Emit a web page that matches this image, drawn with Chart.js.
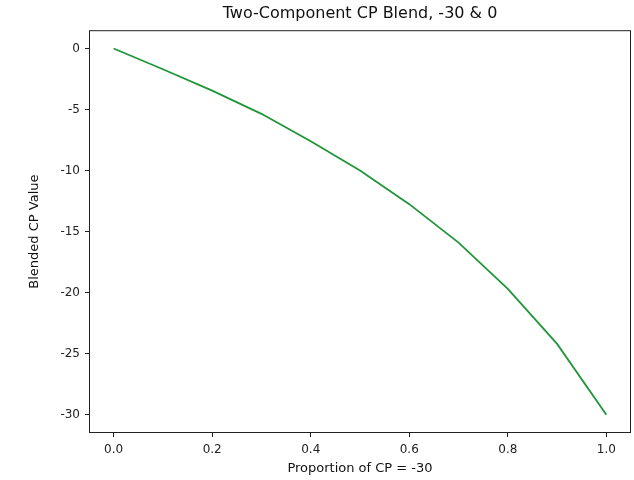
<!DOCTYPE html>
<html lang="en">
  <head>
    <meta charset="UTF-8" />
    <title>Two-Component CP Blend</title>
    <script src="https://cdn.jsdelivr.net/npm/chart.js@4.4.0/dist/chart.umd.min.js"></script>
    <style>
      html, body { margin: 0; padding: 0; background: #fff; }
      #wrap { width: 634px; height: 480px; }
    </style>
  </head>
  <body>
    <div id="wrap"><canvas id="chart" width="634" height="480"></canvas></div>
    <script>
      // proportion of the -30 component, and the blended value
      const proportions = [0.0, 0.1, 0.2, 0.3, 0.4, 0.5, 0.6, 0.7, 0.8, 0.9, 1.0]
      const blended = [0, -1.7, -3.45, -5.35, -7.6, -10.0, -12.75, -15.9, -19.7, -24.2, -30]
      const xTicks = [0.0, 0.2, 0.4, 0.6, 0.8, 1.0]
      const yTicks = [-30, -25, -20, -15, -10, -5, 0]

      const font = 'DejaVu Sans, Liberation Sans, sans-serif'

      // matplotlib-style box around the plot area
      const boxPlugin = {
        id: 'box',
        afterDatasetsDraw(chart) {
          const { ctx, chartArea: a } = chart
          ctx.save()
          ctx.strokeStyle = '#222'
          ctx.lineWidth = 1
          ctx.strokeRect(a.left + 0.5, a.top + 0.5, a.right - a.left - 1, a.bottom - a.top - 1)
          ctx.restore()
        },
      }

      const tickOpts = (list) => (scale) => {
        scale.ticks = list.map((v) => ({ value: v }))
      }

      const chart = new Chart(document.getElementById('chart'), {
        type: 'line',
        data: {
          datasets: [
            {
              data: proportions.map((p, i) => ({ x: p, y: blended[i] })),
              borderColor: '#1f9638',
              borderWidth: 1.8,
              pointRadius: 0,
              tension: 0,
              fill: false,
            },
          ],
        },
        options: {
          responsive: false,
          animation: false,
          layout: { padding: { top: 0, right: 3, left: 0, bottom: 0 } },
          plugins: {
            legend: { display: false },
            tooltip: { enabled: false },
            title: {
              display: true,
              fullSize: false,
              text: 'Two-Component CP Blend, -30 & 0',
              color: '#111',
              font: { family: font, size: 16, weight: 'normal' },
              padding: { top: 4, bottom: 7 },
            },
          },
          scales: {
            x: {
              type: 'linear',
              min: -0.05,
              max: 1.05,
              afterBuildTicks: tickOpts(xTicks),
              afterFit: (s) => { s.height = 47 },
              border: { display: false },
              grid: { drawOnChartArea: false, drawTicks: true, tickLength: 4, color: '#222' },
              ticks: {
                color: '#222',
                padding: 6,
                font: { family: font, size: 12 },
                callback: (v) => v.toFixed(1),
              },
              title: {
                display: true,
                text: 'Proportion of CP = -30',
                color: '#111',
                font: { family: font, size: 13 },
                padding: { top: 0, bottom: 4 },
              },
            },
            y: {
              type: 'linear',
              min: -31.5,
              max: 1.5,
              afterBuildTicks: tickOpts(yTicks),
              afterFit: (s) => { s.width = 89 },
              border: { display: false },
              grid: { drawOnChartArea: false, drawTicks: true, tickLength: 4, color: '#222' },
              ticks: {
                color: '#222',
                padding: 5,
                font: { family: font, size: 12 },
                callback: (v) => String(v),
              },
              title: {
                display: true,
                text: 'Blended CP Value',
                color: '#111',
                font: { family: font, size: 13 },
                padding: { top: 27, bottom: 0 },
              },
            },
          },
        },
        plugins: [boxPlugin],
      })
    </script>
  </body>
</html>
